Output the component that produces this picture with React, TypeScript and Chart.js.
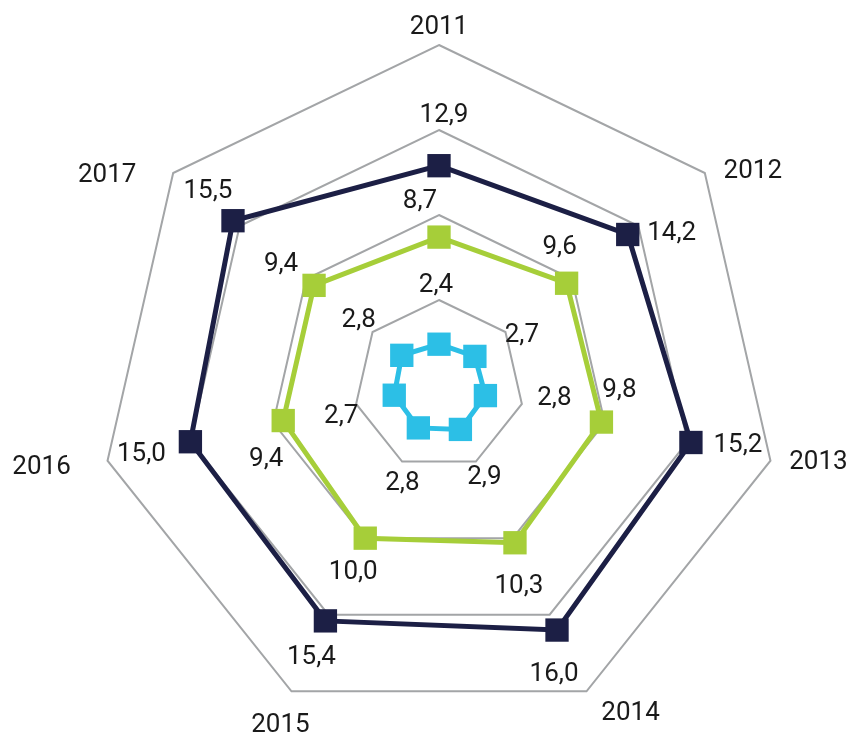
import { useEffect, useRef } from "react";
import { Chart, registerables } from "chart.js";

Chart.register(...registerables);

// ---- data ----
const years = ["2011", "2012", "2013", "2014", "2015", "2016", "2017"];
const seriesNavy = [12.9, 14.2, 15.2, 16.0, 15.4, 15.0, 15.5];
const seriesGreen = [8.7, 9.6, 9.8, 10.3, 10.0, 9.4, 9.4];
const seriesCyan = [2.4, 2.7, 2.8, 2.9, 2.8, 2.7, 2.8];
const scaleMin = 0;
const scaleMax = 20;
const scaleStep = 5;

// ---- styles ----
const NAVY = "#1c1f45";
const GREEN = "#a6ce39";
const CYAN = "#2cbfe6";
const GRID = "#a3a5a7";
const TEXT = "#1a1a1a";
const FONT_SIZE = 26;
const FONT = `${FONT_SIZE}px Roboto, "DejaVu Sans", sans-serif`;

// label offsets (from axis vertex / from marker), in px
const axisLabelOffsets: [number, number][] = [
  [0, -20], [48, -4], [48, -1], [44, 19], [-11, 31], [-66, 4], [-66, 0],
];
const navyLabelOffsets: [number, number][] = [
  [5, -53], [44, -4], [47, 0], [-3, 42], [-14, 34], [-49, 10], [-25, -32],
];
const greenLabelOffsets: [number, number][] = [
  [-19, -38], [-7, -38], [18, -34], [4, 41], [-12, 32], [-17, 36], [-33, -24],
];
const cyanLabelOffsets: [number, number][] = [
  [-3, -61], [47, -24], [69, 0], [24, 45], [-16, 53], [-53, 19], [-43, -38],
];
const dataLabelOffsets = [navyLabelOffsets, greenLabelOffsets, cyanLabelOffsets];

const fmt = (v: number) => v.toFixed(1).replace(".", ",");

const labelPlugin = {
  id: "radarLabels",
  afterDatasetsDraw(chart: any) {
    const ctx = chart.ctx as CanvasRenderingContext2D;
    const scale = chart.scales.r;
    const baseShift = FONT_SIZE * 0.355;
    ctx.save();
    ctx.font = FONT;
    ctx.fillStyle = TEXT;
    ctx.textAlign = "center";
    ctx.textBaseline = "alphabetic";
    years.forEach((y, i) => {
      const p = scale.getPointPosition(i, scale.drawingArea);
      const [dx, dy] = axisLabelOffsets[i];
      ctx.fillText(y, p.x + dx, p.y + dy + baseShift);
    });
    chart.data.datasets.forEach((ds: any, di: number) => {
      const meta = chart.getDatasetMeta(di);
      const offs = dataLabelOffsets[di];
      meta.data.forEach((el: any, i: number) => {
        const [dx, dy] = offs[i];
        ctx.fillText(fmt(ds.data[i]), el.x + dx, el.y + dy + baseShift);
      });
    });
    ctx.restore();
  },
};

export default function App() {
  const ref = useRef<HTMLCanvasElement>(null);

  useEffect(() => {
    document.body.style.margin = "0";
    const canvas = ref.current;
    if (!canvas) return;
    const mk = (data: number[], color: string) => ({
      data,
      borderColor: color,
      backgroundColor: color,
      borderWidth: 5,
      fill: false,
      tension: 0,
      pointStyle: "rect" as const,
      pointRadius: 16.5,
      pointHoverRadius: 16.5,
      pointBorderWidth: 0,
      pointBackgroundColor: color,
    });
    const chart = new Chart(canvas, {
      type: "radar",
      data: {
        labels: years,
        datasets: [mk(seriesNavy, NAVY), mk(seriesGreen, GREEN), mk(seriesCyan, CYAN)],
      },
      options: {
        animation: false,
        responsive: false,
        devicePixelRatio: 1,
        layout: { padding: { left: 99, top: 45, right: 71, bottom: 11 } },
        plugins: {
          legend: { display: false },
          tooltip: { enabled: false },
          title: { display: false },
        },
        scales: {
          r: {
            min: scaleMin,
            max: scaleMax,
            ticks: { display: false, stepSize: scaleStep },
            grid: { color: GRID, lineWidth: 2 },
            angleLines: { display: false },
            pointLabels: { display: false },
          },
        },
      },
      plugins: [labelPlugin],
    });
    return () => chart.destroy();
  }, []);

  return (
    <div style={{ width: 850, height: 736 }}>
      <canvas ref={ref} width={850} height={736} style={{ display: "block", width: 850, height: 736 }} />
    </div>
  );
}
